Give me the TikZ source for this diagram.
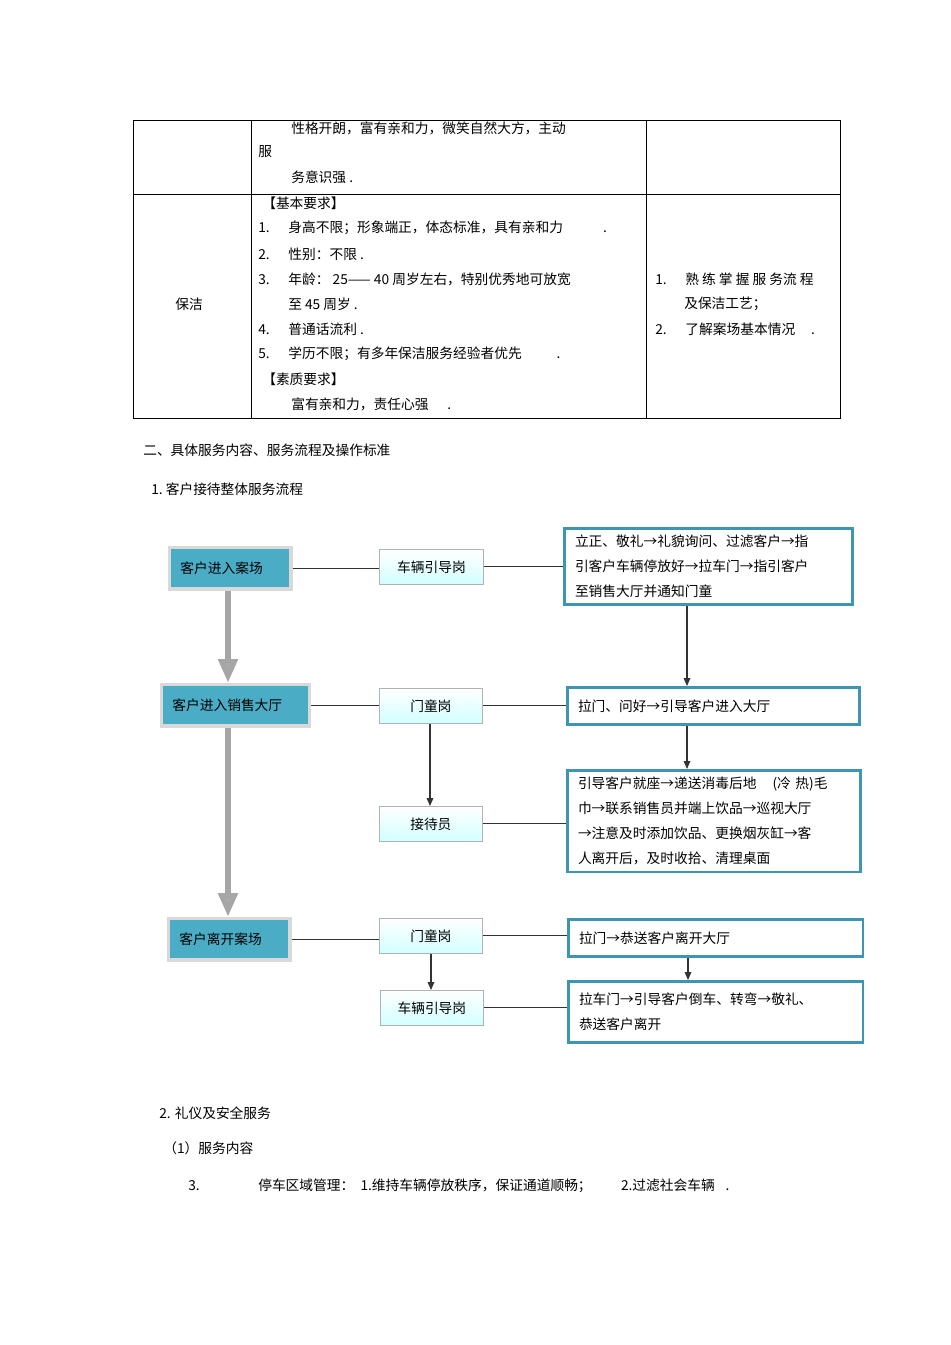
\documentclass[tikz,border=0pt]{standalone}
\usepackage{fontspec}
\setmainfont{Liberation Serif}
\newfontfamily\cjk{Noto Sans CJK SC}
\usetikzlibrary{arrows.meta}
\definecolor{teal1}{HTML}{4BACC6}
\definecolor{tealb}{HTML}{3E95B3}
\begin{document}
\begin{tikzpicture}[x=0.75pt,y=-0.75pt,
  every node/.style={font=\cjk\fontsize{10.3}{18.8}\selectfont,inner sep=0pt},
  tx/.style={anchor=west},
  lbox/.style={draw=gray!30,line width=2.5pt,fill=teal1,minimum height=31pt,anchor=north west,align=left,text width=#1,inner xsep=8pt},
  mbox/.style={draw=gray!60,line width=0.8pt,top color=white,bottom color=cyan!18,minimum height=26pt,anchor=north west},
  rbox/.style={draw=tealb,line width=2pt,fill=white,anchor=north west,align=left,text width=#1,inner xsep=8pt,inner ysep=5pt},
  ln/.style={draw=black!80,line width=0.9pt},
  ar/.style={ln,-{Triangle[length=6pt,width=5pt]}},
  big/.style={draw=gray!70,line width=5pt,-{Triangle[length=18pt,width=14pt,fill=gray!55]}}]
\useasboundingbox (0,0) rectangle (950,1345);
% table
\draw[line width=0.7pt] (133,120) rectangle (840,418);
\draw[line width=0.7pt] (251,120)--(251,418) (646,120)--(646,418) (133,194)--(840,194);
\node[tx] (t1) at (291,128) {性格开朗，富有亲和力，微笑自然大方，主动};
\node[tx] (t2) at (258,152) {服};
\node[tx] (t3) at (291,177) {务意识强 .};
\node (t4) at (189,304) {保洁};
\node[tx] (t5) at (262,203) {【基本要求】};
\node[tx] (t6) at (258,228) {1.\hspace{14pt}身高不限；形象端正，体态标准，具有亲和力\hspace{30pt}.};
\node[tx] (t7) at (258,254) {2.\hspace{14pt}性别：不限 .};
\node[tx] (t8) at (258,279) {3.\hspace{14pt}年龄：\ 25—— 40 周岁左右，特别优秀地可放宽};
\node[tx] (t9) at (288,304) {至 45 周岁 .};
\node[tx] (t10) at (258,329) {4.\hspace{14pt}普通话流利 .};
\node[tx] (t11) at (258,354) {5.\hspace{14pt}学历不限；有多年保洁服务经验者优先\hspace{26pt}.};
\node[tx] (t12) at (262,379) {【素质要求】};
\node[tx] (t13) at (291,404) {富有亲和力，责任心强\hspace{14pt}.};
\node[tx] (t14) at (655,279) {1.\hspace{14pt}熟 练 掌 握 服 务流 程};
\node[tx] (t15) at (684,304) {及保洁工艺；};
\node[tx] (t16) at (655,329) {2.\hspace{14pt}了解案场基本情况\hspace{12pt}.};
\node[tx] (h1) at (143,450) {二、具体服务内容、服务流程及操作标准};
\node[tx] (h2) at (151,489) {1.\ 客户接待整体服务流程};
% left boxes
\node[lbox=75pt] (L1) at (168,546) {客户进入案场};
\node[lbox=95pt] (L2) at (160,683) {客户进入销售大厅};
\node[lbox=75pt] (L3) at (167,917) {客户离开案场};
% middle
\node[mbox,minimum width=78pt] (M1) at (379,549) {车辆引导岗};
\node[mbox,minimum width=77pt] (M2) at (379,688) {门童岗};
\node[mbox,minimum width=77pt] (M3) at (379,806) {接待员};
\node[mbox,minimum width=77pt] (M4) at (379,918) {门童岗};
\node[mbox,minimum width=77pt] (M5) at (380,990) {车辆引导岗};
% right
\node[rbox=200pt] (R1) at (563,527) {立正、敬礼→礼貌询问、过滤客户→指\\引客户车辆停放好→拉车门→指引客户\\至销售大厅并通知门童};
\node[rbox=203pt,minimum height=28pt] (R2) at (566,686) {拉门、问好→引导客户进入大厅};
\node[rbox=204pt] (R3) at (566,769) {引导客户就座→递送消毒后地\hspace{12pt}(冷 热)毛\\巾→联系销售员并端上饮品→巡视大厅\\→注意及时添加饮品、更换烟灰缸→客\\人离开后，及时收拾、清理桌面};
\node[rbox=205pt,minimum height=28pt] (R4) at (567,918) {拉门→恭送客户离开大厅};
\node[rbox=205pt,minimum height=46pt,inner ysep=7pt] (R5) at (567,980) {拉车门→引导客户倒车、转弯→敬礼、\\恭送客户离开};
% connectors
\draw[ln] (L1.east)--(M1.west|-L1.east) (M1.east)--(R1.west|-M1.east);
\draw[ln] (L2.east)--(M2.west|-L2.east) (M2.east)--(R2.west|-M2.east);
\draw[ln] (M3.east)--(R3.west|-M3.east);
\draw[ln] (L3.east)--(M4.west|-L3.east) (M4.east)--(R4.west|-M4.east);
\draw[ln] (M5.east)--(R5.west|-M5.east);
\draw[ar] (R1.south-|687,0)--(R2.north-|687,0);
\draw[ar] (R2.south-|687,0)--(R3.north-|687,0);
\draw[ar] (R4.south-|688,0)--(R5.north-|688,0);
\draw[ar] (M2.south-|430,0)--(M3.north-|430,0);
\draw[ar] (M4.south-|431,0)--(M5.north-|431,0);
\draw[big] (L1.south-|228,0)--(L2.north-|228,0);
\draw[big] (L2.south-|228,0)--(L3.north-|228,0);
% bottom
\node[tx] (b1) at (159,1113) {2. 礼仪及安全服务};
\node[tx] (b2) at (163,1148) {（1）服务内容};
\node[tx] (b3) at (188,1186) {3.};
\node[tx] (b4) at (258,1186) {停车区域管理：\ \ 1.维持车辆停放秩序，保证通道顺畅；\hspace{22pt}2.过滤社会车辆\hspace{8pt}.};
\end{tikzpicture}
\end{document}
